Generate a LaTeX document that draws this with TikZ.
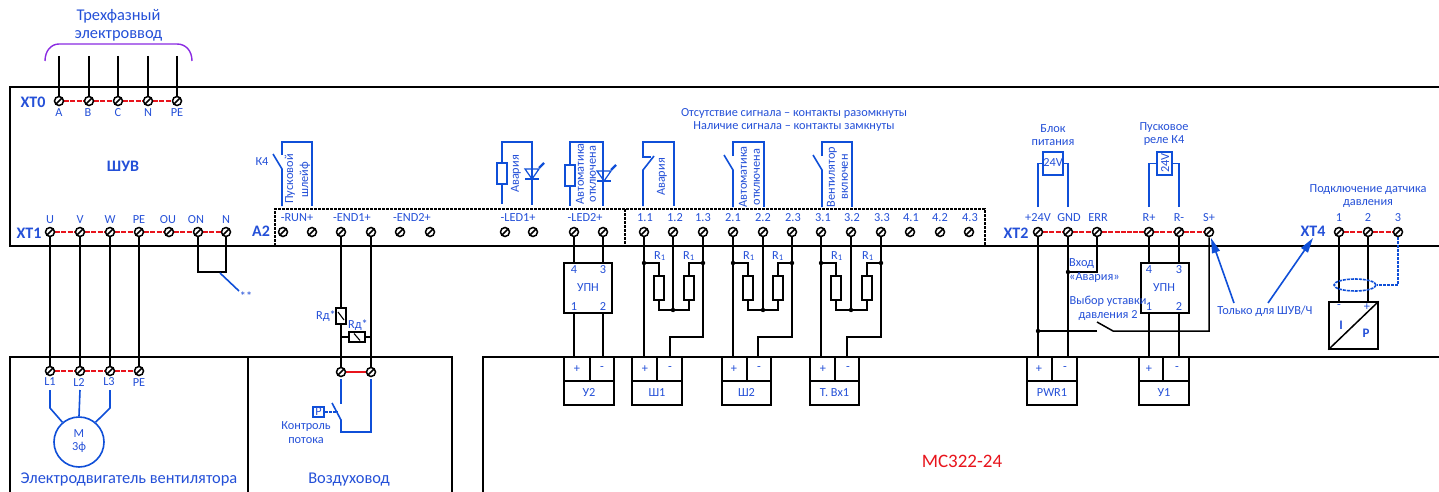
\documentclass[tikz,border=0pt]{standalone}
\usepackage{fontspec}
\setmainfont{Carlito}
\usetikzlibrary{arrows.meta,backgrounds,shapes.geometric}
\definecolor{tblue}{HTML}{2450D8}
\definecolor{wblue}{HTML}{0F4FD8}
\definecolor{tred}{HTML}{E8141C}
\definecolor{tpurple}{HTML}{8A2BE2}
\newcounter{lblcnt}
\newcommand{\tx}[4][]{\stepcounter{lblcnt}\node[lbl,#1] (lb\arabic{lblcnt}) at (#2,#3) {#4};}
\tikzset{
  x=1pt,y=-1pt,
  lbl/.style={text=tblue,inner sep=0pt,align=center,font=\fontsize{12.3}{13.8}\selectfont},
  big/.style={font=\fontsize{16.4}{18}\selectfont},
  head/.style={font=\bfseries\fontsize{16}{18}\selectfont},
  term/.style={circle,draw=black,fill=white,line width=1.5pt,minimum size=9pt,inner sep=0pt,
    path picture={\draw[line width=1.6pt,black] (path picture bounding box.south west)--(path picture bounding box.north east);}},
  wire/.style={draw=black,line width=1.5pt,line join=miter},
  bwire/.style={draw=wblue,line width=1.6pt,line join=miter},
  frameline/.style={draw=black,line width=1.5pt},
  redlink/.style={draw=tred,line width=1.4pt,dash pattern=on 5pt off 1.2pt},
  rbox/.style={rectangle,draw=black,fill=white,line width=1.4pt,inner sep=0pt},
  bbox/.style={rectangle,draw=wblue,line width=1.6pt,inner sep=0pt},
  ptr/.style={draw=wblue,line width=1.6pt,-{Triangle[length=15pt,width=8pt]}},
  a2dash/.style={draw=black,line width=1.3pt,dash pattern=on 3pt off 1pt},
}
\begin{document}
\begin{tikzpicture}
\path[use as bounding box] (0,0) rectangle (1439,492);
\begin{scope}[on background layer]
\fill[white] (0,0) rectangle (1439,492);
\end{scope}

% ---------- terminals
\foreach \n/\x in {ta/59,tb/89,tc/118,tn/148,tpe/177} \node[term] (\n) at (\x,101) {};
\foreach \n/\x in {u/50,v/80,w/110,pe/139,ou/169,on/198,nn/226,
  run1/283,run2/312,enda/341,endb/371,endc/400,endd/430,
  leda/505,ledb/533,ledc/574,ledd/603,
  ka/644,kb/673,kc/703,kd/733,ke/763,kf/792,kg/821,kh/851,ki/881,kj/910,kk/940,kl/969,
  pw/1038,gnd/1068,err/1097,rp/1149,rm/1179,sp/1209,
  da/1339,db/1368,dc/1398} \node[term] (\n) at (\x,232) {};
\foreach \n/\x in {la/50,lb/80,lc/110,ld/139} \node[term] (\n) at (\x,371) {};
\foreach \n/\x in {fa/341,fb/371} \node[term] (\n) at (\x,372) {};

% ---------- device boxes
\node[rbox,minimum width=48pt,minimum height=50pt] (upn2) at (588,288) {};
\node[rbox,minimum width=48pt,minimum height=50pt] (upn1) at (1165,288) {};
\foreach \n/\x in {ra/659,rb/689,rc/748,rd/778,re/836,rf/867} \node[rbox,minimum width=10pt,minimum height=24pt] (\n) at (\x,288) {};
\node[rbox,minimum width=49pt,minimum height=47pt] (ip) at (1353.5,325.5) {};

% ---------- connectors, under the terminals
\begin{scope}[on background layer]
% frames
\coordinate (fl) at (10,87); \coordinate (fr) at (1439,87);
\coordinate (bl) at (10,246); \coordinate (br) at (1439,246);
\draw[frameline] (fr)--(fl)--(bl)--(br);
\coordinate (ml) at (10,492); \coordinate (mt) at (10,357); \coordinate (mm) at (248,357); \coordinate (mb) at (248,492);
\coordinate (mr) at (452,357); \coordinate (mre) at (452,492);
\draw[frameline] (ml)--(mt)--(mr)--(mre);
\draw[frameline] (mm)--(mb);
\coordinate (cl) at (483,492); \coordinate (ct) at (483,357); \coordinate (cr) at (1439,357);
\draw[frameline] (cl)--(ct)--(cr);
% A2 dashed
\coordinate (a1) at (275,246); \coordinate (a2) at (275,209); \coordinate (a3) at (985,209); \coordinate (a4) at (985,246);
\draw[a2dash] (a1)--(a2)--(a3)--(a4);
\coordinate (a5) at (625,209); \coordinate (a6) at (625,246);
\draw[a2dash] (a5)--(a6);
% red links
\draw[redlink] (ta)--(tb)--(tc)--(tn)--(tpe);
\draw[redlink] (u)--(v)--(w)--(pe)--(ou)--(on)--(nn);
\draw[redlink] (pw)--(gnd)--(err)--(rp)--(rm)--(sp);
\draw[redlink] (da)--(db)--(dc);
\draw[redlink] (la)--(lb)--(lc)--(ld);
\draw[draw=tred,line width=1.5pt] (fa)--(fb);
% supply
\foreach \n/\x in {ta/59,tb/89,tc/118,tn/148,tpe/177}{\coordinate (\n up) at (\x,56); \draw[wire] (\n up)--(\n);}
\coordinate (br1) at (45,61); \coordinate (br2) at (59,44); \coordinate (br3) at (177,44); \coordinate (br4) at (192,61);
\draw[draw=tpurple,line width=1.4pt] (br1) .. controls (45,51) and (51,44) .. (br2) -- (br3) .. controls (186,44) and (192,51) .. (br4);
% motor feeds
\draw[wire] (u)--(la); \draw[wire] (v)--(lb); \draw[wire] (w)--(lc); \draw[wire] (pe)--(ld);
% jumper ON-N
\draw[wire] (on)|-(226,272)--(nn);
\coordinate (j1) at (220,273); \coordinate (j2) at (239,291);
\draw[bwire] (j1)--(j2);
% END1
\draw[wire] (enda)--(fa); \draw[wire] (endb)--(fb);
% LED2 to UPN2 to U2
\draw[wire] (ledc)--(574,263); \draw[wire] (ledd)--(603,263);
\draw[wire] (574,313)--(574,357); \draw[wire] (603,313)--(603,357);
% shleif groups
\foreach \l/\m/\r/\rl/\rr/\xl/\xm/\xr/\xrl/\xrr/\bend in {
  ka/kb/kc/ra/rb/644/673/703/659/689/670,
  kd/ke/kf/rc/rd/733/763/792/748/778/758,
  kg/kh/ki/re/rf/821/851/881/836/867/847}{
  \coordinate (\l d) at (\xl,357); \coordinate (\l j) at (\xl,263); \coordinate (\r j) at (\xr,263); \coordinate (\m j) at (\xm,310);
  \draw[wire] (\l)--(\l d);
  \draw[wire] (\m)--(\m j);
  \draw[wire] (\r)--(\xr,337)-|(\bend,357);
  \draw[wire] (\l j)-|(\rl.north);
  \draw[wire] (\r j)-|(\rr.north);
  \draw[wire] (\rl.south)|-(\m j);
  \draw[wire] (\rr.south)|-(\m j);
  \fill (\l j) circle (2.2pt); \fill (\r j) circle (2.2pt); \fill (\m j) circle (2.2pt);
}
% XT2
\coordinate (pwd) at (1038,357); \coordinate (gndd) at (1068,357);
\draw[wire] (pw)--(pwd); \draw[wire] (gnd)--(gndd);
\coordinate (gj) at (1068,272); \coordinate (pj) at (1038,331);
\fill (gj) circle (2.2pt); \fill (pj) circle (2.2pt);
\draw[wire] (err)|-(gj);
\coordinate (sw1) at (1113,331); \coordinate (sw2) at (1097,322); \coordinate (sw3) at (1097,331);
\draw[wire] (sp)|-(sw1)--(sw2);
\draw[wire] (sw3)--(pj);
\draw[wire] (rp)--(1149,263); \draw[wire] (rm)--(1179,263);
\draw[wire] (1149,313)--(1149,357); \draw[wire] (1179,313)--(1179,357);
% XT4
\draw[wire] (da)--(1339,302); \draw[wire] (db)--(1368,302);
\end{scope}
\draw[wire] (ip.south west)--(ip.north east);

% resistors on flow line
\node[rbox,minimum width=10pt,minimum height=16pt] (rdv) at (341,316) {};
\node[rbox,minimum width=16pt,minimum height=10pt] (rdh) at (357,337) {};
\draw[line width=1.1pt] (338,312)--(344,320);
\draw[line width=1.1pt] (354,333.5)--(360,340.5);
\coordinate (rdl) at (341,337); \coordinate (rdr) at (371,337);
\draw[wire] (rdl)--(rdh); \draw[wire] (rdh)--(rdr);

% ---------- blue device symbols
% K4
\coordinate (k1) at (282,206); \coordinate (k2) at (282,169); \coordinate (k3) at (273,154);
\coordinate (k4) at (282,155); \coordinate (k5) at (282,142); \coordinate (k6) at (312,142); \coordinate (k7) at (312,206);
\draw[bwire] (k1)--(k2)--(k3); \draw[bwire] (k4)--(k5)--(k6)--(k7);
% LED1
\node[bbox,minimum width=10pt,minimum height=21pt] (rled1) at (502,173.5) {};
\coordinate (l1a) at (502,204); \coordinate (l1b) at (502,142); \coordinate (l1c) at (532,142); \coordinate (l1d) at (532,205);
\draw[bwire] (l1a)--(rled1); \draw[bwire] (rled1)--(l1b)--(l1c)--(l1d);
\draw[bwire,line width=1.2pt] (525,169)--(539,169)--(532,179)--cycle;
\draw[bwire,line width=1.2pt] (525,179)--(539,179);
\draw[bwire,line width=2.4pt] (539,168)--(544,163);
% LED2
\node[bbox,minimum width=10pt,minimum height=21pt] (rled2) at (570,175.5) {};
\coordinate (l2a) at (570,206); \coordinate (l2b) at (570,142); \coordinate (l2c) at (603,142); \coordinate (l2d) at (603,206);
\draw[bwire] (l2a)--(rled2); \draw[bwire] (rled2)--(l2b)--(l2c)--(l2d);
\draw[bwire,line width=1.2pt] (597,171)--(611,171)--(604,181)--cycle;
\draw[bwire,line width=1.2pt] (597,181)--(611,181);
\draw[bwire,line width=2.4pt] (611,170)--(616,165);
% Авария contact
\coordinate (c1) at (643,206); \coordinate (c2) at (643,170); \coordinate (c3) at (654,156);
\coordinate (c4) at (651,157); \coordinate (c5) at (643,157); \coordinate (c6) at (643,142); \coordinate (c7) at (674,142); \coordinate (c8) at (674,206);
\draw[bwire] (c1)--(c2)--(c3); \draw[bwire] (c4)--(c5)--(c6)--(c7)--(c8);
% Автоматика contact
\coordinate (d1) at (733,207); \coordinate (d2) at (733,170); \coordinate (d3) at (724,155);
\coordinate (d4) at (733,156); \coordinate (d5) at (733,142); \coordinate (d6) at (764,142); \coordinate (d7) at (764,207);
\draw[bwire] (d1)--(d2)--(d3); \draw[bwire] (d4)--(d5)--(d6)--(d7);
% Вентилятор contact
\coordinate (e1) at (822,207); \coordinate (e2) at (822,170); \coordinate (e3) at (813,155);
\coordinate (e4) at (822,156); \coordinate (e5) at (822,142); \coordinate (e6) at (852,142); \coordinate (e7) at (852,207);
\draw[bwire] (e1)--(e2)--(e3); \draw[bwire] (e4)--(e5)--(e6)--(e7);
% Power block & relay
\node[bbox,minimum width=20pt,minimum height=23pt] (pwb) at (1053,163.5) {};
\coordinate (p1) at (1038,207); \coordinate (p2) at (1068,207);
\draw[bwire] (p1)|-(pwb.west); \draw[bwire] (p2)|-(pwb.east);
\node[bbox,minimum width=15pt,minimum height=23pt] (rlb) at (1164.5,163.5) {};
\coordinate (q1) at (1149,207); \coordinate (q2) at (1179,207);
\draw[bwire] (q1)|-(rlb.west); \draw[bwire] (q2)|-(rlb.east);
% sensor shield
\node[draw=wblue,line width=1.6pt,dash pattern=on 3pt off 1pt,ellipse,minimum width=42pt,minimum height=12pt,inner sep=0pt] (shield) at (1355,285) {};
\begin{scope}[on background layer]
\draw[draw=wblue,line width=1.6pt,dash pattern=on 3pt off 1pt] (dc)|-(shield.east);
\end{scope}
% motor
\node[circle,draw=wblue,line width=1.6pt,minimum size=50pt,inner sep=0pt] (motor) at (79,442) {};
\coordinate (m1) at (50,390); \coordinate (m2) at (50,408);
\coordinate (m3) at (80,390); \coordinate (m4) at (110,390); \coordinate (m5) at (110,408);
\draw[bwire] (m1)--(m2)--(motor.130);
\draw[bwire] (m3)--(motor.90);
\draw[bwire] (m4)--(m5)--(motor.50);
% flow switch
\coordinate (s1) at (341,379); \coordinate (s2) at (341,404); \coordinate (s3) at (341,420); \coordinate (s4) at (332,403);
\coordinate (s5) at (341,432); \coordinate (s6) at (371,432); \coordinate (s7) at (371,379);
\draw[bwire] (s1)--(s2); \draw[bwire] (s4)--(s3)--(s5)--(s6)--(s7);
\node[bbox,minimum width=11pt,minimum height=10pt] (pb) at (318.5,412) {};
\coordinate (s8) at (337,412);
\draw[bwire,dash pattern=on 3pt off 1pt] (pb)--(s8);
\tx{318.5}{412}{P}
% pointers
\coordinate (pt1) at (1234,303); \coordinate (pt2) at (1268,303);
\coordinate (pt3) at (1211,238); \coordinate (pt4) at (1313,238);
\draw[ptr] (pt1)--(pt3);
\draw[ptr] (pt2)--(pt4);

% ---------- output connector blocks
\foreach \n/\xa/\xb/\xc/\name/\xp/\xm in {
  u2/564/590/614/У2/577/602,
  sh1/632/657/682/Ш1/645/670,
  sh2/722/747/771/Ш2/734/759,
  tv/810/835/859/Т. Вх1/823/848,
  pr/1027/1052/1077/PWR1/1039/1065,
  u1/1139/1163/1189/У1/1149/1177}{
  \coordinate (\n a) at (\xa,357); \coordinate (\n b) at (\xc,405);
  \coordinate (\n c) at (\xa,381); \coordinate (\n d) at (\xc,381);
  \coordinate (\n e) at (\xb,357); \coordinate (\n f) at (\xb,381);
  \draw[frameline] (\n a) rectangle (\n b);
  \draw[frameline] (\n c)--(\n d);
  \draw[frameline] (\n e)--(\n f);
  \tx{\xp}{369}{+}
  \tx{\xm}{369}{-}
  \tx{\xa/2+\xc/2}{393}{\name}
}

% ---------- text
\tx[big]{118.5}{25}{Трехфазный\\электроввод}
\tx[head]{33}{102}{ХТ0}
\tx[head]{29}{233}{ХТ1}
\tx[head]{261}{231}{А2}
\tx[head]{1016}{233}{ХТ2}
\tx[head]{1313}{231}{ХТ4}
\tx[head]{123}{166}{ШУВ}
\foreach \s/\x in {A/59,B/88,C/118,N/148,PE/177}{\tx{\x}{113}{\s}}
\foreach \s/\x in {U/50,V/80,W/110,PE/139,OU/168,ON/196,N/226}{\tx{\x}{220}{\s}}
\foreach \s/\x in {-RUN+/297,-END1+/352,-END2+/412,-LED1+/518,-LED2+/585,
  1.1/645,1.2/675,1.3/703,2.1/733,2.2/763,2.3/793,3.1/823,3.2/852,3.3/882,4.1/911,4.2/940,4.3/970,
  +24V/1038,GND/1069,ERR/1098,R+/1149,R-/1179,S+/1209,1/1339,2/1368,3/1398}{\tx{\x}{218}{\s}}
\tx{262}{162}{К4}
\tx[rotate=90]{290}{179}{Пусковой}
\tx[rotate=90]{305}{180}{шлейф}
\tx[rotate=90]{516}{174}{Авария}
\tx[rotate=90]{580}{174}{Автоматика}
\tx[rotate=90]{593}{174}{отключена}
\tx[rotate=90]{662}{177}{Авария}
\tx[rotate=90]{743}{177}{Автоматика}
\tx[rotate=90]{757}{177}{отключена}
\tx[rotate=90]{832}{177}{Вентилятор}
\tx[rotate=90]{845}{177}{включен}
\tx{794}{120}{Отсутствие сигнала – контакты разомкнуты\\Наличие сигнала – контакты замкнуты}
\tx{1053}{135}{Блок\\питания}
\tx{1164}{134}{Пусковое\\реле К4}
\tx{1053}{163}{24V}
\tx[rotate=90]{1165}{163}{24V}
\tx{1368}{196}{Подключение  датчика\\давления}
\tx{246}{296}{**}
% R1
\foreach \x in {660,689,749,778,837,868}{\tx{\x}{256}{R\textsubscript{1}}}
% UPN
\foreach \c/\a/\b in {588/574/603,1164/1149/1179}{
  \tx{\c}{288}{УПН}
  \tx{\a}{270}{4}
  \tx{\b}{270}{3}
  \tx{\a}{307}{1}
  \tx{\b}{307}{2}
}
\tx[anchor=west,align=left]{1069}{270.5}{Вход\\«Авария»}
\tx{1108}{308.5}{Выбор уставки\\давления 2}
\tx{1265}{311}{Только для ШУВ/Ч}
\tx{1339}{307}{-}
\tx{1367}{307}{+}
\tx[font=\bfseries\fontsize{13}{14}\selectfont]{1341}{325}{I}
\tx[font=\bfseries\fontsize{13}{14}\selectfont]{1366}{333}{P}
\tx{326}{316}{Rд*}
\tx{358}{325}{Rд*}
\tx{50}{382}{L1}
\tx{79}{383}{L2}
\tx{109}{382}{L3}
\tx{139}{383}{PE}
\tx{79}{441}{М\\3ф}
\tx{306}{432.5}{Контроль\\потока}
\tx[big]{129}{480}{Электродвигатель вентилятора}
\tx[big]{349}{480}{Воздуховод}
\node[text=tred,inner sep=0pt,font=\fontsize{19}{22}\selectfont] (mc) at (962,461) {МС322-24};
\end{tikzpicture}
\end{document}
